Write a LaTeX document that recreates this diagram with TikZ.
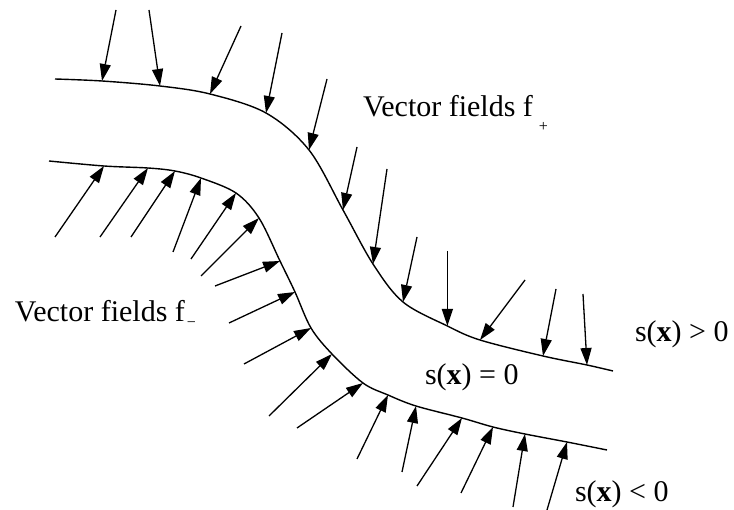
\documentclass[tikz,border=0pt]{standalone}
\usepackage{fontspec}
\setmainfont{Liberation Serif}
\usetikzlibrary{arrows.meta}
\begin{document}
\begin{tikzpicture}[x=1pt,y=-1pt,
  curveline/.style={line width=1.4pt},
  vec/.style={line width=1.3pt,-{Triangle[length=17pt,width=11pt]}},
  lab/.style={inner sep=0pt,outer sep=0pt,anchor=base west,font=\fontsize{30}{36}\selectfont}]
\useasboundingbox (0,0) rectangle (734,510);
% upper curve points
\coordinate (u0) at (55,79);
\coordinate (u1) at (102,81);
\coordinate (u2) at (160,86);
\coordinate (u3) at (210,94);
\coordinate (u4) at (266,113);
\coordinate (u5) at (309,150);
\coordinate (u6) at (343,210);
\coordinate (u7) at (373,264);
\coordinate (u8) at (403,302);
\coordinate (u9) at (447.4,326);
\coordinate (u10) at (480,340);
\coordinate (u11) at (543,356);
\coordinate (u12) at (587,365);
\coordinate (u13) at (613,371);
% lower curve points
\coordinate (l0) at (49,161);
\coordinate (l1) at (104,166);
\coordinate (l2) at (148,168);
\coordinate (l3) at (175,171);
\coordinate (l4) at (201,178);
\coordinate (l5) at (236,193);
\coordinate (l6) at (259,218);
\coordinate (l7) at (280,261);
\coordinate (l8) at (295,292);
\coordinate (l9) at (311,328);
\coordinate (l10) at (332,354);
\coordinate (l11) at (363,383);
\coordinate (l12) at (388,395);
\coordinate (l13) at (416,406);
\coordinate (l14) at (462,418);
\coordinate (l15) at (493,427);
\coordinate (l16) at (525,434);
\coordinate (l17) at (567,442);
\coordinate (l18) at (607,450);
% curves
\draw[curveline] plot[smooth,tension=0.55] coordinates {(u0) (u1) (u2) (u3) (u4) (u5) (u6) (u7) (u8) (u9) (u10) (u11) (u12) (u13)};
\draw[curveline] plot[smooth,tension=0.55] coordinates {(l0) (l1) (l2) (l3) (l4) (l5) (l6) (l7) (l8) (l9) (l10) (l11) (l12) (l13) (l14) (l15) (l16) (l17) (l18)};
% upper arrow starts
\coordinate (a1) at (116,10);
\coordinate (a2) at (149,10);
\coordinate (a3) at (241,26);
\coordinate (a4) at (282,33);
\coordinate (a5) at (327,79);
\coordinate (a6) at (357,147);
\coordinate (a7) at (387,169);
\coordinate (a8) at (417,237);
\coordinate (a9) at (447.4,251);
\coordinate (a10) at (525,280);
\coordinate (a11) at (556,289);
\coordinate (a12) at (583,294);
\foreach \i in {1,...,12} {\draw[vec] (a\i) -- (u\i);}
% lower arrow starts
\coordinate (b1) at (55,237);
\coordinate (b2) at (100,237);
\coordinate (b3) at (131,237);
\coordinate (b4) at (173,252);
\coordinate (b5) at (191,259);
\coordinate (b6) at (201,276);
\coordinate (b7) at (215,286);
\coordinate (b8) at (229,323);
\coordinate (b9) at (244,364);
\coordinate (b10) at (269,416);
\coordinate (b11) at (297,428);
\coordinate (b12) at (357,459);
\coordinate (b13) at (402,472);
\coordinate (b14) at (417,486);
\coordinate (b15) at (461,493);
\coordinate (b16) at (513,507);
\coordinate (b17) at (547,510);
\foreach \i in {1,...,17} {\draw[vec] (b\i) -- (l\i);}
% labels
\node[lab] (fplus) at (363,117) {Vector fields f\hspace{6pt}\raisebox{-15pt}{\fontsize{16}{18}\selectfont +}};
\node[lab] (fminus) at (15,322) {Vector fields f\hspace{2pt}\raisebox{-6pt}{\fontsize{16}{18}\selectfont −}};
\node[lab] (szero) at (425,385) {s(\textbf{x}) = 0};
\node[lab] (spos) at (635,342) {s(\textbf{x}) > 0};
\node[lab] (sneg) at (575,501) {s(\textbf{x}) < 0};
\end{tikzpicture}
\end{document}
